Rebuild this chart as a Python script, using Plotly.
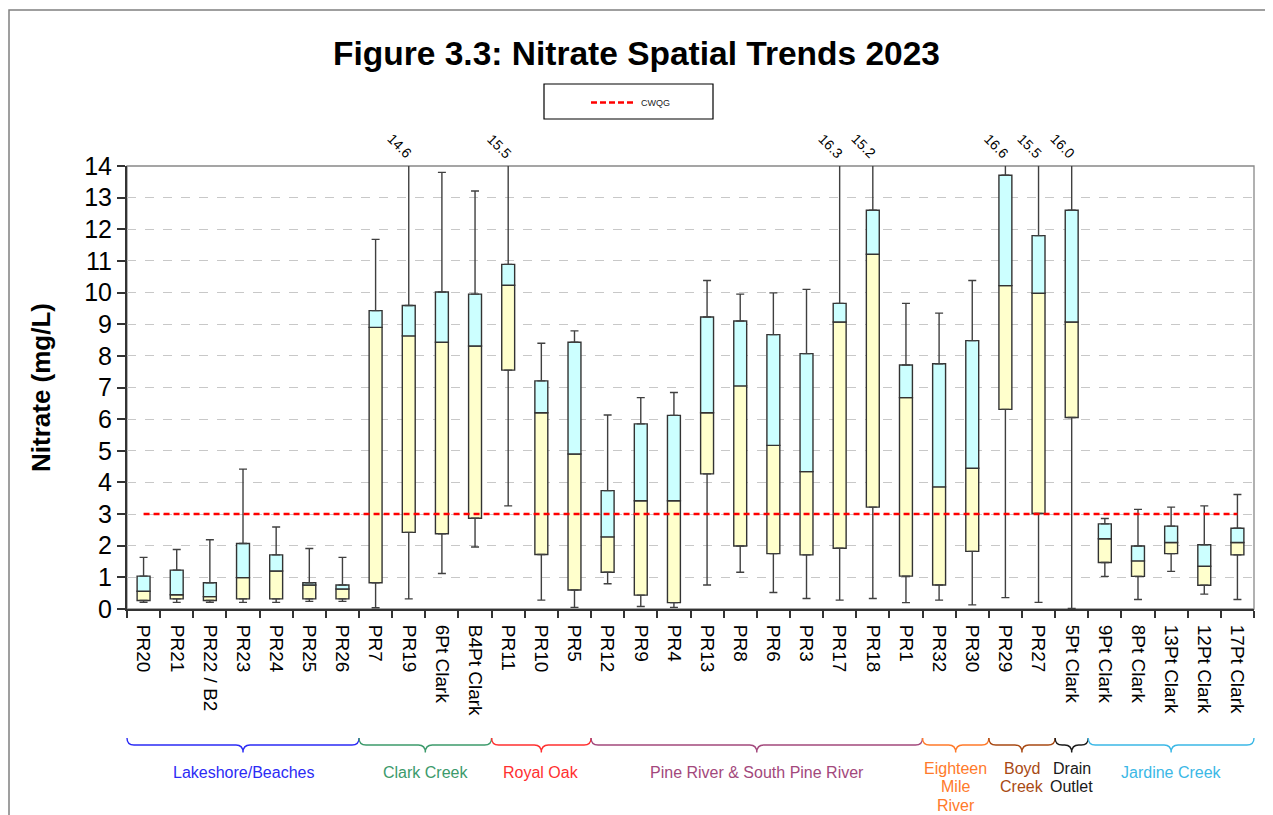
import plotly.graph_objects as go

# Sites (x axis categories)
sites = ['PR20', 'PR21', 'PR22 / B2', 'PR23', 'PR24', 'PR25', 'PR26',
         'PR7', 'PR19', '6Pt Clark', 'B4Pt Clark',
         'PR11', 'PR10', 'PR5',
         'PR12', 'PR9', 'PR4', 'PR13', 'PR8', 'PR6', 'PR3', 'PR17', 'PR18', 'PR1',
         'PR32', 'PR30',
         'PR29', 'PR27',
         '5Pt Clark',
         '9Pt Clark', '8Pt Clark', '13Pt Clark', '12Pt Clark', '17Pt Clark']

# Box plot statistics (mg/L)
minimum = [0.21, 0.21, 0.21, 0.21, 0.21, 0.24, 0.24,
           0.04, 0.32, 1.12, 1.96,
           3.26, 0.28, 0.05,
           0.80, 0.08, 0.05, 0.76, 1.16, 0.52, 0.33, 0.28, 0.33, 0.20,
           0.28, 0.13,
           0.36, 0.21,
           0.02,
           1.03, 0.30, 1.19, 0.47, 0.30]
q1 = [0.27, 0.32, 0.27, 0.32, 0.32, 0.32, 0.32,
      0.83, 2.42, 2.38, 2.87,
      7.55, 1.72, 0.60,
      1.16, 0.44, 0.20, 4.27, 1.99, 1.75, 1.71, 1.92, 3.22, 1.04,
      0.76, 1.82,
      6.31, 3.02,
      6.05,
      1.47, 1.03, 1.75, 0.75, 1.71]
median = [0.56, 0.45, 0.39, 0.99, 1.20, 0.76, 0.63,
          8.90, 8.63, 8.43, 8.31,
          10.23, 6.20, 4.90,
          2.28, 3.42, 3.42, 6.20, 7.05, 5.17, 4.34, 9.07, 11.21, 6.68,
          3.86, 4.45,
          10.22, 9.98,
          9.07,
          2.22, 1.52, 2.10, 1.35, 2.10]
q3 = [1.04, 1.23, 0.83, 2.07, 1.71, 0.83, 0.76,
      9.43, 9.59, 10.02, 9.95,
      10.89, 7.21, 8.43,
      3.74, 5.85, 6.12, 9.23, 9.10, 8.67, 8.07, 9.66, 12.60, 7.71,
      7.75, 8.48,
      13.71, 11.80,
      12.60,
      2.69, 1.99, 2.62, 2.03, 2.55]
maximum = [1.63, 1.88, 2.19, 4.42, 2.59, 1.91, 1.63,
           11.68, 14.6, 13.80, 13.21,
           15.5, 8.40, 8.79,
           6.13, 6.68, 6.84, 10.38, 9.95, 9.99, 10.10, 16.3, 15.2, 9.66,
           9.35, 10.38,
           16.6, 15.5,
           16.0,
           2.86, 3.15, 3.22, 3.26, 3.62]

cwqg = 3.0
y_max = 14

# Site groups shown with braces under the axis
group_names = ['Lakeshore/Beaches', 'Clark Creek', 'Royal Oak',
               'Pine River & South Pine River', 'Eighteen<br>Mile<br>River',
               'Boyd<br>Creek', 'Drain<br>Outlet', 'Jardine Creek']
group_sizes = [7, 4, 3, 10, 2, 2, 1, 5]
group_colors = ['#2B2BF5', '#3C9A6B', '#FF3030', '#A3487C', '#FF7A2A',
                '#A84A14', '#1A1A1A', '#3BB8E6']

# plot area in page pixels (page has an 8px body margin)
PX0, PX1, PY0, PY1 = 127, 1254, 166, 609
W, H = 1265, 807


def px(x):
    return (x - PX0) / (PX1 - PX0)


def py(y):
    return (PY1 - y) / (PY1 - PY0)


n = len(sites)
fig = go.Figure()

# lower half of box (Q1 to median)
fig.add_trace(go.Bar(
    x=sites, y=[m - a for m, a in zip(median, q1)], base=q1,
    width=0.39, marker=dict(color='#FFFFCC', line=dict(color='#333333', width=1.4)),
    showlegend=False, hoverinfo='skip'
))
# upper half of box (median to Q3)
fig.add_trace(go.Bar(
    x=sites, y=[b - m for b, m in zip(q3, median)], base=median,
    width=0.39, marker=dict(color='#CCFFFF', line=dict(color='#333333', width=1.4)),
    showlegend=False, hoverinfo='skip'
))

# whiskers
fig.add_trace(go.Scatter(
    x=sites, y=q3, mode='markers', marker=dict(opacity=0),
    error_y=dict(type='data', symmetric=False,
                 array=[mx - b for mx, b in zip(maximum, q3)], arrayminus=[0] * n,
                 color='#404040', thickness=1.4, width=4),
    showlegend=False, hoverinfo='skip'
))
fig.add_trace(go.Scatter(
    x=sites, y=q1, mode='markers', marker=dict(opacity=0),
    error_y=dict(type='data', symmetric=False,
                 array=[0] * n, arrayminus=[a - mn for a, mn in zip(q1, minimum)],
                 color='#404040', thickness=1.4, width=4),
    showlegend=False, hoverinfo='skip'
))

# guideline
fig.add_trace(go.Scatter(
    x=sites, y=[cwqg] * n, mode='lines', name='CWQG',
    line=dict(color='#FF0000', width=2.5, dash='6px,4px'),
    showlegend=False, hoverinfo='skip'
))

# labels for whiskers going off the top of the axis
for s, mx in zip(sites, maximum):
    if mx > y_max:
        fig.add_annotation(x=s, y=y_max, text=f'{mx:.1f}', showarrow=False,
                           textangle=45, xanchor='right', yanchor='bottom',
                           xshift=9, yshift=2,
                           font=dict(size=14, color='black'))

# legend box for the guideline
fig.add_shape(type='rect', xref='paper', yref='paper',
              x0=px(544), x1=px(713), y0=py(119), y1=py(84),
              line=dict(color='black', width=1.2), fillcolor='white')
fig.add_shape(type='line', xref='paper', yref='paper',
              x0=px(591), x1=px(635), y0=py(102.5), y1=py(102.5),
              line=dict(color='#FF0000', width=2.5, dash='6px,3px'))
fig.add_annotation(x=px(639), y=py(102.5), xref='paper', yref='paper',
                   text='CWQG', showarrow=False, xanchor='left', yanchor='middle',
                   font=dict(size=9, color='#222222'))

# plot frame (top and right in grey)
fig.add_shape(type='rect', xref='paper', yref='paper', x0=0, x1=1, y0=0, y1=1,
              line=dict(color='#888888', width=1.3), layer='below')
# outer chart border
fig.add_shape(type='rect', xref='paper', yref='paper',
              x0=px(9), x1=px(1271), y0=py(840), y1=py(10),
              line=dict(color='#808080', width=1.5), layer='below')

# group braces and labels
y_top, y_mid, y_tip = py(738), py(745), py(752.5)
line_gap = 18.3
start = 0
for name, size, color in zip(group_names, group_sizes, group_colors):
    x0 = start / n
    x1 = (start + size) / n
    xc = (x0 + x1) / 2
    r = min(7 / (PX1 - PX0), (x1 - x0) / 4.2)
    path = (f'M {x0},{y_top} Q {x0},{y_mid} {x0 + r},{y_mid} L {xc - r},{y_mid} '
            f'Q {xc},{y_mid} {xc},{y_tip} Q {xc},{y_mid} {xc + r},{y_mid} '
            f'L {x1 - r},{y_mid} Q {x1},{y_mid} {x1},{y_top}')
    fig.add_shape(type='path', xref='paper', yref='paper', path=path,
                  line=dict(color=color, width=1.4))
    lines = name.split('<br>')
    first_y = 772.5 if len(lines) == 1 else 768.5
    for i, part in enumerate(lines):
        fig.add_annotation(x=xc, y=py(first_y + i * line_gap), xref='paper', yref='paper',
                           text=part, showarrow=False, xanchor='center', yanchor='middle',
                           font=dict(size=16, color=color))
    start += size

fig.update_layout(
    width=W, height=H,
    margin=dict(l=PX0 - 8, r=W + 8 - PX1, t=PY0 - 8, b=H + 8 - PY1),
    paper_bgcolor='white', plot_bgcolor='white',
    barmode='overlay',
    font=dict(family='Liberation Sans, Arial, sans-serif', color='black'),
    title=dict(text='<b>Figure 3.3: Nitrate Spatial Trends 2023</b>',
               x=(636.5 - 8) / W, xanchor='center', y=1 - 45 / H, yanchor='middle',
               font=dict(size=33.5, color='black')),
    xaxis=dict(
        type='category', tickangle=90, tickfont=dict(size=19, color='black'),
        tickson='boundaries', ticks='outside', ticklen=7, tickwidth=1.5,
        tickcolor='#333333', showline=True, linecolor='#333333', linewidth=2,
        showgrid=False, range=[-0.5, n - 0.5], ticklabelstandoff=10
    ),
    yaxis=dict(
        range=[0, y_max], dtick=1, tick0=0,
        tickfont=dict(size=25, color='black'),
        ticks='outside', ticklen=8, tickwidth=1.5, tickcolor='#333333',
        showline=True, linecolor='#333333', linewidth=2,
        showgrid=True, gridcolor='#C8C8C8', gridwidth=1, griddash='dash',
        zeroline=False,
        title=dict(text='<b>Nitrate (mg/L)</b>', font=dict(size=26, color='black'),
                   standoff=26)
    ),
    showlegend=False
)

fig.write_html('out.html')
